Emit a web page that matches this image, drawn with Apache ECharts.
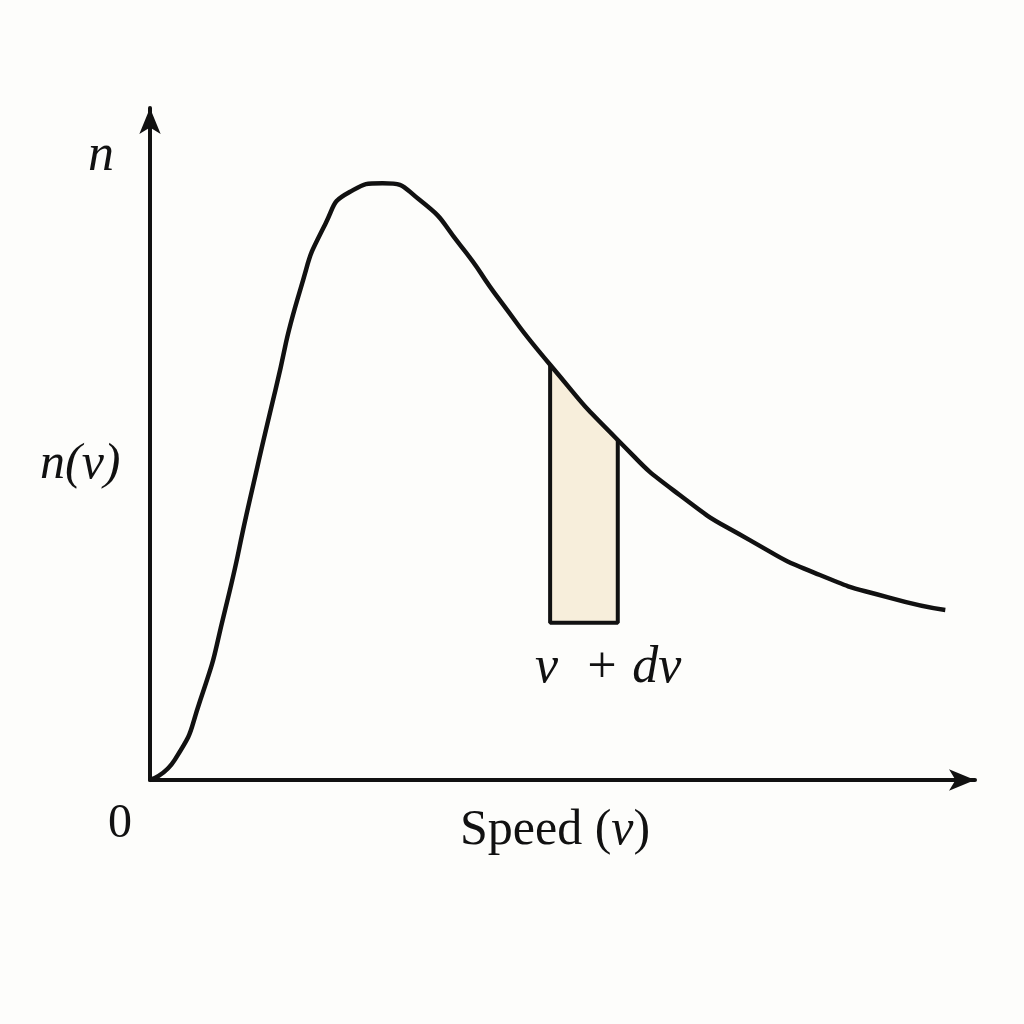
<!DOCTYPE html>
<html>
<head>
<meta charset="utf-8">
<script src="https://cdn.jsdelivr.net/npm/echarts@6/dist/echarts.min.js"></script>
<style>html,body{margin:0;background:#fdfdfb}#c{width:1024px;height:1024px}</style>
</head>
<body>
<div id="c"></div>
<script>
// speed distribution curve (arbitrary units)
var curveX = [0, 0.30, 0.61, 0.91, 1.21, 1.52, 1.82, 2.12, 2.42, 2.82, 3.27, 3.76, 4.24, 4.85, 5.67, 6.42, 7.27, 8.12, 8.97, 9.64];
var curveY = [0, 0.30, 1.19, 2.53, 4.17, 5.80, 7.29, 8.26, 8.75, 8.88, 8.63, 7.96, 7.14, 6.18, 5.06, 4.24, 3.57, 3.05, 2.71, 2.53];
// shaded strip v .. v+dv
var stripX = [4.85, 5.26, 5.67];
var stripY = [6.18, 5.60, 5.06];
var stripBase = 2.34;

var chart = echarts.init(document.getElementById('c'));
var serif = '"Liberation Serif", "DejaVu Serif", serif';

var curve = curveX.map(function (x, i) { return [x, curveY[i]]; });
var strip = stripX.map(function (x, i) { return [x, stripY[i]]; });
var edge = [[stripX[0], stripY[0]], [stripX[0], stripBase], [stripX[2], stripBase], [stripX[2], stripY[2]]];

chart.setOption({
    backgroundColor: '#fdfdfb',
    animation: false,
    grid: { left: 150, right: 49, top: 108, bottom: 244 },
    xAxis: {
        type: 'value', min: 0, max: 10,
        axisLine: { lineStyle: { color: '#111', width: 4 }, symbol: ['none', 'arrow'], symbolSize: [16, 26] },
        axisTick: { show: false }, axisLabel: { show: false }, splitLine: { show: false }
    },
    yAxis: {
        type: 'value', min: 0, max: 10,
        axisLine: { lineStyle: { color: '#111', width: 4 }, symbol: ['none', 'arrow'], symbolSize: [16, 26] },
        axisTick: { show: false }, axisLabel: { show: false }, splitLine: { show: false }
    },
    series: [
        {
            type: 'line', data: strip, smooth: true, symbol: 'none',
            lineStyle: { width: 0 },
            areaStyle: { color: '#f7eedb', opacity: 1, origin: stripBase }
        },
        {
            type: 'line', data: edge, symbol: 'none',
            lineStyle: { color: '#111', width: 4 }
        },
        {
            type: 'line', data: curve, smooth: 0.6, symbol: 'none',
            lineStyle: { color: '#111', width: 4.5 }
        }
    ],
    graphic: [
        { type: 'text', left: 88, top: 130, style: { text: 'n', font: 'italic 52px ' + serif, fill: '#111' } },
        { type: 'text', left: 40, top: 440, style: { text: 'n(v)', font: 'italic 50px ' + serif, fill: '#111' } },
        { type: 'text', left: 108, top: 800, style: { text: '0', font: '48px ' + serif, fill: '#111' } },
        { type: 'text', left: 460, top: 806, style: { text: 'Speed ({i|v})', font: '50px ' + serif, fill: '#111',
            rich: { i: { font: 'italic 50px ' + serif, fill: '#111' } } } },
        { type: 'text', left: 535, top: 642, style: { text: 'v  + dv', font: 'italic 52px ' + serif, fill: '#111' } }
    ]
});
</script>
</body>
</html>
